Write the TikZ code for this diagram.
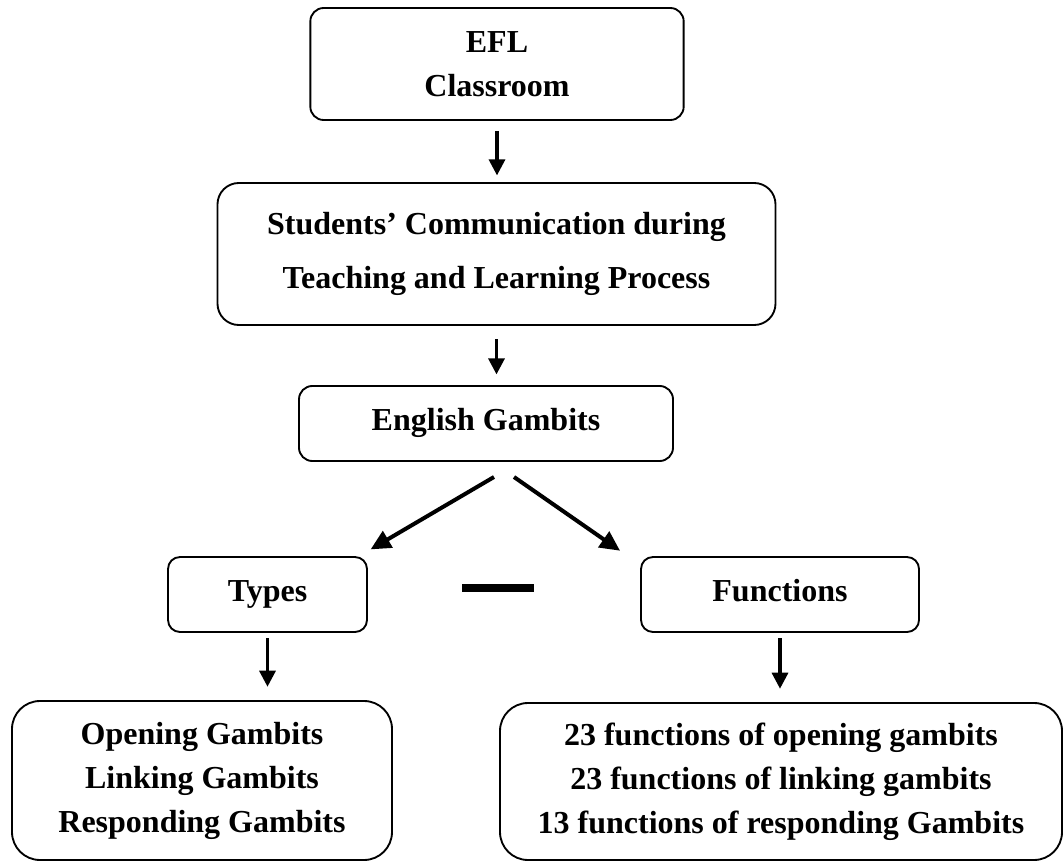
\documentclass[tikz,border=0pt]{standalone}
\usepackage{fontspec}
\setmainfont{Liberation Serif}
\usetikzlibrary{arrows.meta,calc}

\begin{document}
\begin{tikzpicture}[x=0.75pt,y=-0.75pt,
	gbox/.style={draw,line width=1.4pt,rounded corners=10pt,align=center,inner sep=0pt,
		font=\bfseries\fontsize{24}{33}\selectfont},
	onerow/.style={text height=15pt,text depth=5pt},
	garrow/.style={-{Triangle[length=12pt,width=12pt]},line width=2.4pt}]

	\useasboundingbox (0,0) rectangle (1064,863);

	\node[gbox,minimum width=280pt,minimum height=84pt] (efl) at (497,64) {EFL\\Classroom};

	\node[gbox,rounded corners=16pt,minimum width=418.5pt,minimum height=106.5pt,
		font=\bfseries\fontsize{24}{40}\selectfont] (stud) at (496.5,254)
		{Students’ Communication during\\Teaching and Learning Process};

	\node[gbox,onerow,minimum width=280.5pt,minimum height=56.25pt] (eng) at (486,423.5) {English Gambits};

	\node[gbox,onerow,rounded corners=9pt,minimum width=149.25pt,minimum height=56.25pt] (types) at (267.5,594.5) {Types};
	\node[gbox,onerow,rounded corners=9pt,minimum width=208.5pt,minimum height=56.25pt] (func) at (780,594.5) {Functions};

	\node[gbox,rounded corners=21pt,minimum width=285pt,minimum height=119.25pt] (open) at (202,780.5)
		{Opening Gambits\\Linking Gambits\\Responding Gambits};
	\node[gbox,rounded corners=21pt,minimum width=421.5pt,minimum height=117.75pt] (fnum) at (781,781.5)
		{23 functions of opening gambits\\23 functions of linking gambits\\13 functions of responding Gambits};

	\draw[garrow] ([yshift=-7.5pt]efl.south) -- ($(efl.south |- stud.north)+(0,5pt)$);
	\draw[garrow] ([yshift=-10pt]stud.south) -- ($(stud.south |- eng.north)+(0,8pt)$);

	\coordinate (gl) at (494,477);
	\coordinate (gr) at (514,477);
	\draw[garrow,line width=3pt,-{Triangle[length=15pt,width=14pt]}] (gl) -- ($(types.north east)+(2pt,5pt)$);
	\draw[garrow,line width=3pt,-{Triangle[length=15pt,width=14pt]}] (gr) -- ($(func.north west)+(-15pt,4pt)$);

	\fill (462,584) rectangle (534,592);

	\draw[garrow] ([yshift=-4pt]types.south) -- ($(types.south |- open.north)+(0,10pt)$);
	\draw[garrow] ([yshift=-4pt]func.south) -- ($(func.south |- fnum.north)+(0,10pt)$);

\end{tikzpicture}
\end{document}
